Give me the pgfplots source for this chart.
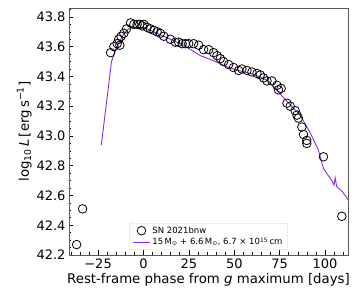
\documentclass[border=0pt]{standalone}
\usepackage{fontspec}
\setmainfont{DejaVu Sans}
\usepackage{pgfplots}
\pgfplotsset{compat=1.18}
\definecolor{bviolet}{HTML}{8A2BE2}
\begin{document}
\begin{tikzpicture}
\begin{axis}[
  scale only axis, width=279pt, height=247pt,
  xmin=-41, xmax=112.6, ymin=42.2, ymax=43.86,
  axis line style={black!65, line width=0.8pt},
  tick align=inside, xtick pos=bottom, ytick pos=left,
  major tick length=4.5pt, minor tick length=2.5pt,
  every tick/.style={black, line width=0.6pt},
  xtick={-25,0,25,50,75,100}, xticklabels={−25,0,25,50,75,100},
  minor xtick={-40,-35,-30,-20,-15,-10,-5,5,10,15,20,30,35,40,45,55,60,65,70,80,85,90,95,105,110},
  ytick={42.2,42.4,42.6,42.8,43.0,43.2,43.4,43.6,43.8},
  yticklabels={42.2,42.4,42.6,42.8,43.0,43.2,43.4,43.6,43.8},
  minor ytick={42.25,42.3,42.35,42.45,42.5,42.55,42.65,42.7,42.75,42.85,42.9,42.95,43.05,43.1,43.15,43.25,43.3,43.35,43.45,43.5,43.55,43.65,43.7,43.75,43.85},
  tick label style={font=\fontsize{13}{13}\selectfont},
  label style={font=\fontsize{13.3}{14}\selectfont},
  xlabel={Rest-frame phase from \textit{g} maximum [days]},
  ylabel={log\textsubscript{10}\,\textit{L}\,[erg\,s\textsuperscript{−1}]},
  xlabel style={yshift=2pt},
  ylabel style={yshift=-2pt},
  legend style={at={(0.5,0.02)}, anchor=south, font=\fontsize{8.5}{9.5}\selectfont, draw=black!20, rounded corners=2pt, fill=white, fill opacity=0.8, text opacity=1, inner xsep=3pt, inner ysep=1.5pt, row sep=-1pt},
  legend cell align=left,
]
\addplot[only marks, mark=o, mark size=4.3pt, black, line width=0.8pt] coordinates {
(-36.8,42.27) (-33.5,42.51) (-18.1,43.56) (-16.3,43.60) (-14.5,43.62) (-13.0,43.61)
(-13.6,43.65) (-12.3,43.67) (-10.8,43.69) (-9.3,43.72) (-7.1,43.76) (-5.3,43.75)
(-3.5,43.75) (-2.0,43.75) (-0.7,43.74) (0.2,43.75) (2.0,43.73) (3.8,43.72)
(5.7,43.71) (7.5,43.70) (9.3,43.69) (11.2,43.67) (14.8,43.65) (17.6,43.63)
(19.4,43.63) (21.3,43.62) (23.1,43.62) (24.9,43.62) (27.6,43.62) (30.4,43.61)
(33.1,43.58) (35.9,43.58) (38.6,43.56) (40.5,43.54) (42.3,43.52) (44.1,43.50)
(46.9,43.48) (49.6,43.46) (52.4,43.44) (54.2,43.45) (57.0,43.44) (59.7,43.43)
(62.5,43.42) (64.3,43.41) (66.1,43.39) (68.0,43.37) (70.7,43.37) (73.5,43.34)
(75.8,43.32) (74.3,43.31) (79.0,43.22) (80.8,43.20) (83.5,43.17) (84.5,43.14)
(85.3,43.12) (87.2,43.06) (88.1,43.01) (89.9,42.97) (89.9,42.95) (99.1,42.86)
(109.2,42.46)
};
\addlegendentry{SN 2021bnw}
\addplot[bviolet, line width=0.9pt] coordinates {
(-23.2,42.94) (-17.6,43.50) (-15.4,43.58) (-10.8,43.69) (-7.1,43.73) (0,43.73)
(3.8,43.71) (13.0,43.66) (22.1,43.61) (31.3,43.54) (37.7,43.51) (46.9,43.46)
(52.4,43.44) (61.5,43.41) (68.8,43.37) (76.9,43.26) (86.3,43.14) (91.8,43.02)
(96.2,42.91) (99.1,42.78) (103.7,42.70) (104.9,42.67) (105.5,42.72) (106.4,42.66)
(109.2,42.63) (112.8,42.57)
};
\addlegendentry{15\,M\textsubscript{⊙} + 6.6\,M\textsubscript{⊙}, 6.7 × 10\textsuperscript{15}\,cm}
\end{axis}
\pgfresetboundingbox
\path[use as bounding box] ([xshift=-69pt,yshift=-42pt]current axis.south west) rectangle ([xshift=9pt,yshift=8pt]current axis.north east);
\end{tikzpicture}
\end{document}
